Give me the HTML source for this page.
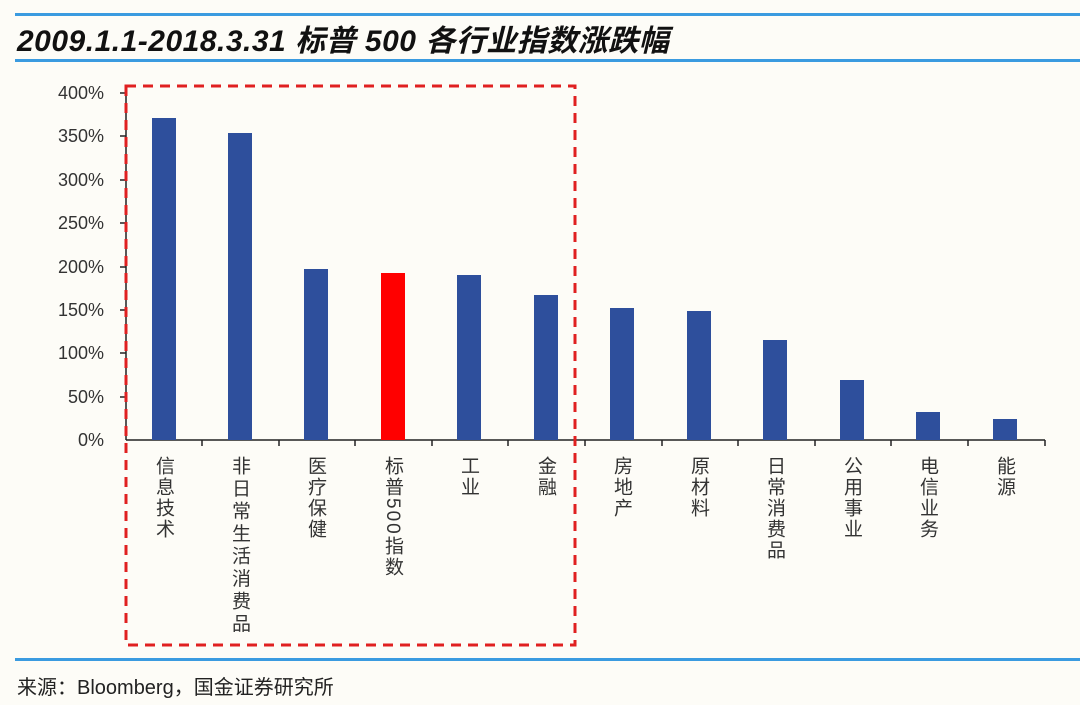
<!DOCTYPE html>
<html><head><meta charset="utf-8"><style>
body{margin:0;width:1080px;height:705px;background:#fdfcf7;position:relative;overflow:hidden;font-family:"Liberation Sans","Noto Sans CJK SC",sans-serif}
.hl{position:absolute;left:15px;right:0;height:3px;background:#3b9be0}
.title{position:absolute;left:17px;top:16px;font-size:30px;font-weight:bold;font-style:italic;color:#111;white-space:nowrap;letter-spacing:0.5px}
.foot{position:absolute;left:17px;top:671px;font-size:20px;color:#222}
.lab{position:absolute;top:456px;writing-mode:vertical-rl;text-orientation:mixed;font-size:19px;line-height:20px;color:#333;letter-spacing:2px}
</style></head><body>
<div class="hl" style="top:13px"></div>
<div class="title">2009.1.1-2018.3.31 标普 500 各行业指数涨跌幅</div>
<div class="hl" style="top:59px"></div>
<svg width="1080" height="705" style="position:absolute;left:0;top:0" font-family="Liberation Sans" font-size="18" fill="#333">
<g text-anchor="end">
<text x="104" y="99">400%</text><text x="104" y="142">350%</text><text x="104" y="186">300%</text><text x="104" y="229">250%</text><text x="104" y="273">200%</text><text x="104" y="316">150%</text><text x="104" y="359">100%</text><text x="104" y="403">50%</text><text x="104" y="446">0%</text>
</g>
<g stroke="#222" stroke-width="1.5">
<line x1="126" y1="93" x2="126" y2="440"/>
<line x1="120" y1="93" x2="126" y2="93"/><line x1="120" y1="136" x2="126" y2="136"/><line x1="120" y1="180" x2="126" y2="180"/><line x1="120" y1="223" x2="126" y2="223"/><line x1="120" y1="267" x2="126" y2="267"/><line x1="120" y1="310" x2="126" y2="310"/><line x1="120" y1="353" x2="126" y2="353"/><line x1="120" y1="397" x2="126" y2="397"/>
<line x1="126" y1="440" x2="1045" y2="440"/>
<line x1="202" y1="440" x2="202" y2="446"/><line x1="279" y1="440" x2="279" y2="446"/><line x1="355" y1="440" x2="355" y2="446"/><line x1="432" y1="440" x2="432" y2="446"/><line x1="508" y1="440" x2="508" y2="446"/><line x1="585" y1="440" x2="585" y2="446"/><line x1="662" y1="440" x2="662" y2="446"/><line x1="738" y1="440" x2="738" y2="446"/><line x1="815" y1="440" x2="815" y2="446"/><line x1="891" y1="440" x2="891" y2="446"/><line x1="968" y1="440" x2="968" y2="446"/><line x1="1045" y1="440" x2="1045" y2="446"/>
</g>
<g fill="#2e4f9c">
<rect x="152" y="118" width="24" height="322"/>
<rect x="228" y="133" width="24" height="307"/>
<rect x="304" y="269" width="24" height="171"/>
<rect x="381" y="273" width="24" height="167" fill="#f00"/>
<rect x="457" y="275" width="24" height="165"/>
<rect x="534" y="295" width="24" height="145"/>
<rect x="610" y="308" width="24" height="132"/>
<rect x="687" y="311" width="24" height="129"/>
<rect x="763" y="340" width="24" height="100"/>
<rect x="840" y="380" width="24" height="60"/>
<rect x="916" y="412" width="24" height="28"/>
<rect x="993" y="419" width="24" height="21"/>
</g>
<rect x="126" y="86" width="449" height="559" fill="none" stroke="#e02020" stroke-width="3" stroke-dasharray="10,7"/>
</svg>
<div class="lab" style="left:153px">信息技术</div>
<div class="lab" style="left:229px;letter-spacing:3.5px">非日常生活消费品</div>
<div class="lab" style="left:305px">医疗保健</div>
<div class="lab" style="left:382px">标普500指数</div>
<div class="lab" style="left:458px">工业</div>
<div class="lab" style="left:535px">金融</div>
<div class="lab" style="left:611px">房地产</div>
<div class="lab" style="left:688px">原材料</div>
<div class="lab" style="left:764px">日常消费品</div>
<div class="lab" style="left:841px">公用事业</div>
<div class="lab" style="left:917px">电信业务</div>
<div class="lab" style="left:994px">能源</div>
<div class="hl" style="top:658px"></div>
<div class="foot">来源：Bloomberg，国金证券研究所</div>
</body></html>
